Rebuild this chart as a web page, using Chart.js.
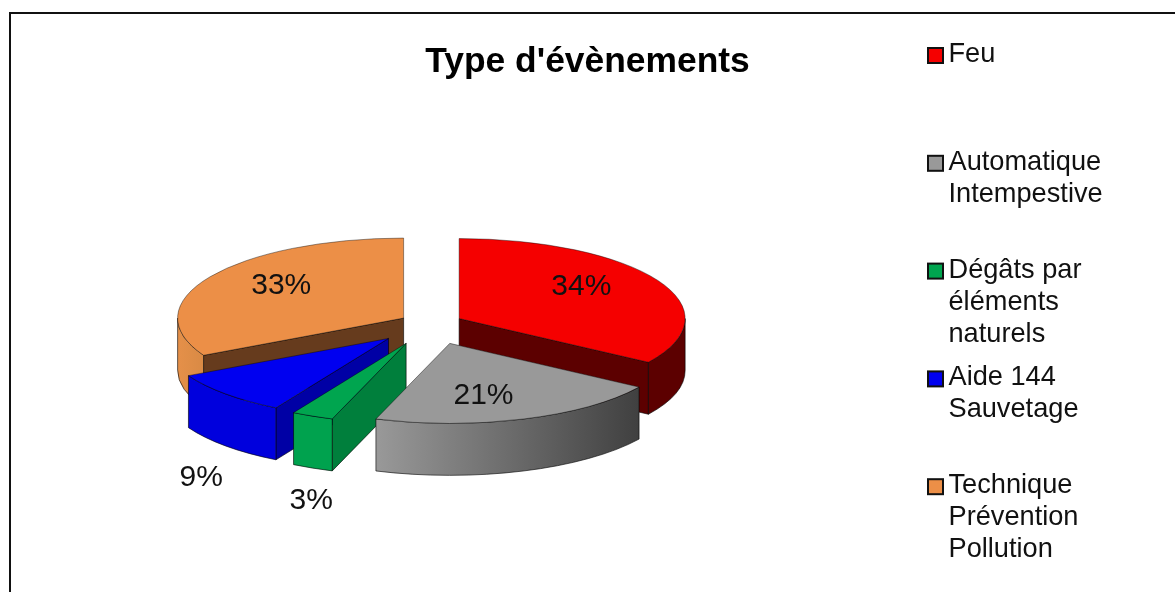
<!DOCTYPE html>
<html>
<head>
<meta charset="utf-8">
<title>Type d'évènements</title>
<script src="https://cdn.jsdelivr.net/npm/chart.js@4"></script>
<style>
	html, body { margin: 0; padding: 0; background: #fff; }
	canvas { display: block; }
</style>
</head>
<body>
<canvas id="pieChart" width="1175" height="592"></canvas>
<script>
const titleText = "Type d'évènements";
const categories = ['Feu', 'Automatique Intempestive', 'Dégâts par éléments naturels', 'Aide 144 Sauvetage', 'Technique Prévention Pollution'];
const legendLines = [['Feu'], ['Automatique', 'Intempestive'], ['Dégâts par', 'éléments', 'naturels'], ['Aide 144', 'Sauvetage'], ['Technique', 'Prévention', 'Pollution']];
const values = [34.2, 21.1, 3.0, 9.0, 32.7];

const topColors = ['#f50000', '#999999', '#00a54f', '#0000f0', '#ec8f47'];
const frontColors = [['#5c0000', '#5c0000'], ['#999999', '#404040'], ['#00a24e', '#00a24e'], ['#0000dd', '#0000dd'], ['#e59049', '#d98a45']];
const sideColors = ['#5c0000', '#555555', '#007f3c', '#0000a5', '#663b1d'];
const explode = [32, 58, 60, 59, 32];
const labelRadius = [139, 104, 229, 260, 143];
const labelDrop = [-8, 18, 84, 75, -6];
const drawOrder = [4, 0, 3, 2, 1];

const pieShift = -156.5; // the title stays centred on the page, the pie sits left of it
const squash = 0.354;
const depth = 52;
const edgeColor = 'rgba(0,0,0,0.6)';
const fontName = '"Liberation Sans", Arial, sans-serif';

function apexOf(el, i) {
	let mid = (el.startAngle + el.endAngle) / 2;
	return {
		x: el.x + pieShift + Math.cos(mid) * explode[i],
		y: el.y + Math.sin(mid) * explode[i] * squash
	};
}

// side of a slice, from the apex out to the rim, pushed down by depth
function drawSide(ctx, p, r, angle, color) {
	let x = p.x + Math.cos(angle) * r;
	let y = p.y + Math.sin(angle) * r * squash;
	ctx.beginPath();
	ctx.moveTo(p.x, p.y);
	ctx.lineTo(x, y);
	ctx.lineTo(x, y + depth);
	ctx.lineTo(p.x, p.y + depth);
	ctx.closePath();
	ctx.fillStyle = color;
	ctx.fill();
	ctx.strokeStyle = edgeColor;
	ctx.lineWidth = 1;
	ctx.stroke();
}

// rim of a slice, only the part turned towards the viewer
function drawRim(ctx, p, r, a1, a2, stops) {
	let from = Math.max(a1, 0);
	let to = Math.min(a2, Math.PI);
	if (to <= from) return;
	let ry = r * squash;
	let x1 = p.x + Math.cos(from) * r;
	let x2 = p.x + Math.cos(to) * r;
	let grad = ctx.createLinearGradient(x2, 0, x1, 0);
	grad.addColorStop(0, stops[0]);
	grad.addColorStop(1, stops[1]);
	ctx.beginPath();
	ctx.ellipse(p.x, p.y, r, ry, 0, from, to);
	ctx.ellipse(p.x, p.y + depth, r, ry, 0, to, from, true);
	ctx.closePath();
	ctx.fillStyle = grad;
	ctx.fill();
	ctx.strokeStyle = edgeColor;
	ctx.lineWidth = 1;
	ctx.stroke();
}

const fakePie = {
	id: 'fakePie',
	beforeDatasetsDraw(chart) {
		const ctx = chart.ctx;
		const arcs = chart.getDatasetMeta(0).data;
		drawOrder.forEach(i => {
			let el = arcs[i];
			let p = apexOf(el, i);
			let r = el.outerRadius;
			if (Math.cos(el.startAngle) < 0) drawSide(ctx, p, r, el.startAngle, sideColors[i]);
			if (Math.cos(el.endAngle) > 0) drawSide(ctx, p, r, el.endAngle, sideColors[i]);
			drawRim(ctx, p, r, el.startAngle, el.endAngle, frontColors[i]);
			ctx.save();
			ctx.translate(p.x, p.y);
			ctx.scale(1, squash);
			ctx.translate(-el.x, -el.y);
			el.draw(ctx);
			ctx.restore();
		});
		ctx.save();
		ctx.font = '30px ' + fontName;
		ctx.fillStyle = '#111';
		ctx.textAlign = 'center';
		ctx.textBaseline = 'middle';
		arcs.forEach((el, i) => {
			let mid = (el.startAngle + el.endAngle) / 2;
			let p = apexOf(el, i);
			ctx.fillText(Math.round(values[i]) + '%',
				p.x + Math.cos(mid) * labelRadius[i],
				p.y + Math.sin(mid) * labelRadius[i] * squash + labelDrop[i]);
		});
		ctx.restore();
		return false;
	},
	afterDraw(chart) {
		const ctx = chart.ctx;
		ctx.save();
		// frame
		ctx.strokeStyle = '#111';
		ctx.lineWidth = 2;
		ctx.beginPath();
		ctx.moveTo(10, 592);
		ctx.lineTo(10, 13);
		ctx.lineTo(1175, 13);
		ctx.stroke();
		// legend
		ctx.font = '27.2px ' + fontName;
		ctx.textBaseline = 'alphabetic';
		ctx.textAlign = 'left';
		legendLines.forEach((lines, i) => {
			let y = 62 + i * 107.8;
			ctx.fillStyle = topColors[i];
			ctx.fillRect(928, y - 14, 15, 15);
			ctx.strokeStyle = '#111';
			ctx.lineWidth = 2;
			ctx.strokeRect(928, y - 14, 15, 15);
			ctx.fillStyle = '#111';
			lines.forEach((line, n) => ctx.fillText(line, 948.5, y + n * 32));
		});
		ctx.restore();
	}
};

new Chart(document.getElementById('pieChart'), {
	type: 'pie',
	data: {
		labels: categories,
		datasets: [{
			data: values,
			backgroundColor: topColors,
			borderColor: edgeColor,
			borderWidth: 1
		}]
	},
	options: {
		responsive: false,
		animation: false,
		radius: 226,
		layout: { padding: { bottom: 27.6 } },
		plugins: {
			legend: { display: false },
			tooltip: { enabled: false },
			title: {
				display: true,
				text: titleText,
				color: '#000',
				font: { family: fontName, size: 35.4, weight: 'bold' },
				padding: { top: 41, bottom: 0 }
			}
		}
	},
	plugins: [fakePie]
});
</script>
</body>
</html>
